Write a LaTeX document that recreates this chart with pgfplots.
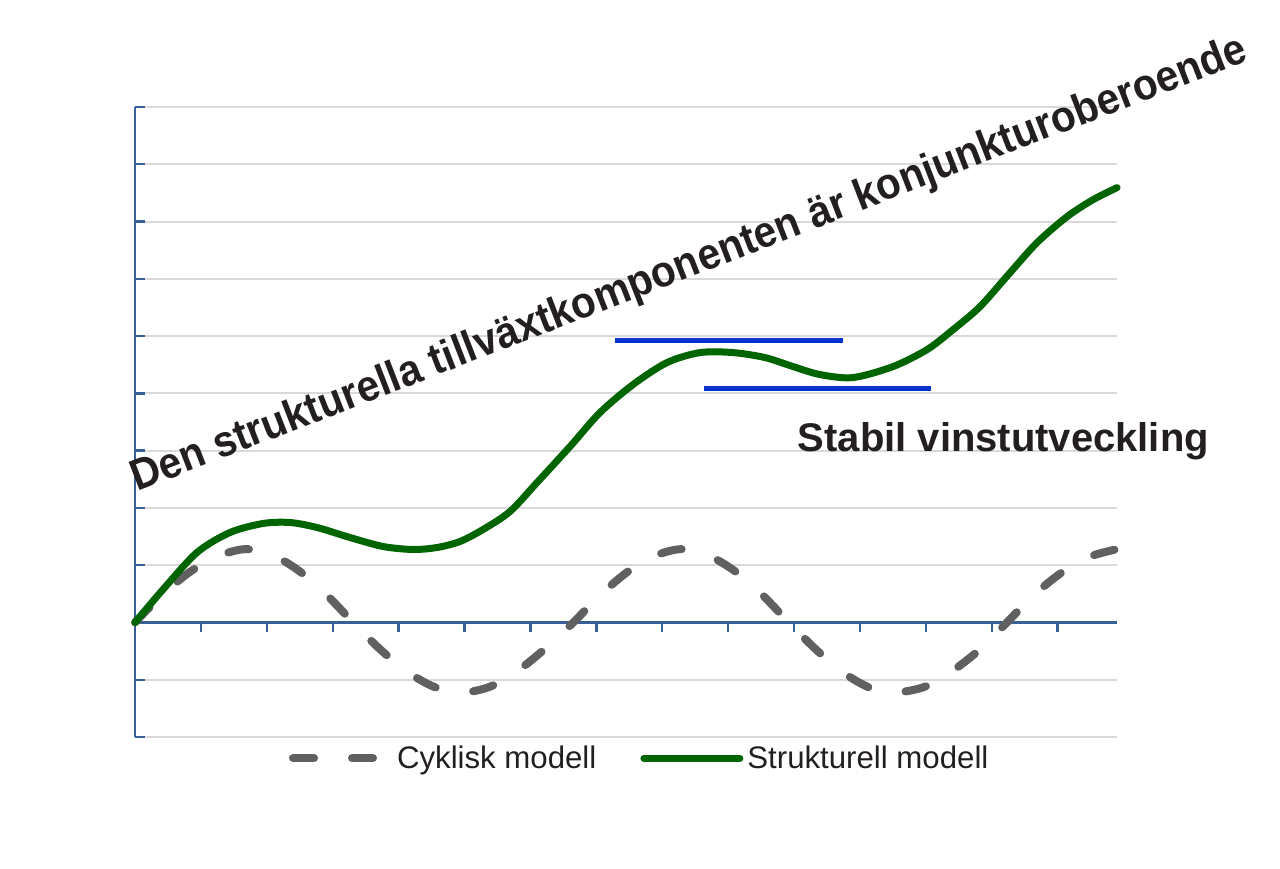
\documentclass[border=0pt]{standalone}
\usepackage{fontspec}
\setmainfont{Liberation Sans}
\usepackage{pgfplots}
\pgfplotsset{compat=1.18}
\definecolor{axisblue}{RGB}{56,96,150}
\definecolor{gridgray}{RGB}{217,217,217}
\definecolor{cycgray}{RGB}{96,96,96}
\definecolor{strgreen}{RGB}{0,100,0}
\definecolor{markblue}{RGB}{0,51,204}
\definecolor{txtgray}{RGB}{35,31,32}

\begin{document}
\begin{tikzpicture}
\useasboundingbox (-67.5pt,-65.5pt) rectangle (572.5pt,368.5pt);
\begin{axis}[
  at={(0,0)}, anchor=south west,
  scale only axis, width=491pt, height=315pt,
  xmin=0, xmax=14.9, ymin=-2, ymax=9,
  axis x line=middle, axis y line=left,
  axis line style={-, axisblue, line width=1.3pt},
  xtick={0,...,14}, ytick={-2,...,9},
  xticklabels={}, yticklabels={},
  tick align=center, major tick length=5pt,
  x tick style={axisblue, line width=1.2pt, yshift=-2.5pt},
  y tick style={axisblue, line width=1.2pt, xshift=2.5pt},
  ymajorgrids, grid style={gridgray, line width=1pt},
  legend columns=2,
  legend style={draw=none, fill=none, at={(0.515,0.0)}, anchor=north,
    font=\fontsize{15.6}{18}\selectfont, text=txtgray,
    /tikz/every even column/.append style={column sep=20pt}},
  legend image code/.code={\draw[#1] (0pt,0pt) -- (48pt,0pt);},
  clip=false,
]
% cyclical model
\addplot[cycgray, line width=4pt, dash pattern=on 10.5pt off 19pt, line cap=round, smooth] coordinates {
  (0,0) (0.41,0.48) (0.83,0.88) (1.24,1.15) (1.67,1.28) (2.08,1.18) (2.49,0.90)
  (2.90,0.49) (3.31,0) (3.72,-0.47) (4.13,-0.86) (4.55,-1.13) (4.98,-1.22)
  (5.39,-1.12) (5.80,-0.85) (6.22,-0.46) (6.65,0) (7.06,0.48) (7.47,0.88)
  (7.88,1.16) (8.29,1.28) (8.70,1.17) (9.11,0.89) (9.52,0.48) (9.92,0)
  (10.33,-0.47) (10.74,-0.87) (11.15,-1.14) (11.55,-1.22) (11.99,-1.12)
  (12.40,-0.85) (12.83,-0.46) (13.23,0) (13.64,0.48) (14.07,0.88) (14.49,1.15) (14.90,1.28)
};
\addlegendentry{Cyklisk modell}
% structural model
\addplot[strgreen, line width=3.5pt, line cap=round, smooth] coordinates {
  (0,0) (0.425,0.576) (0.941,1.222) (1.442,1.571) (1.942,1.728) (2.352,1.745)
  (2.762,1.658) (3.263,1.483) (3.763,1.326) (4.219,1.274) (4.583,1.309)
  (4.932,1.414) (5.281,1.623) (5.690,1.937) (6.100,2.443) (6.601,3.072)
  (7.056,3.665) (7.557,4.154) (8.073,4.538) (8.574,4.712) (9.074,4.712)
  (9.560,4.625) (9.985,4.468) (10.394,4.328) (10.895,4.276) (11.502,4.468)
  (12.018,4.764) (12.413,5.113) (12.822,5.515) (13.278,6.108) (13.687,6.632)
  (14.143,7.086) (14.537,7.382) (14.901,7.592)
};
\addlegendentry{Strukturell modell}
% range markers
\addplot[markblue, line width=2.5pt, forget plot] coordinates {(7.28,4.92) (10.74,4.92)};
\addplot[markblue, line width=2.5pt, forget plot] coordinates {(8.63,4.08) (12.08,4.08)};

\node[rotate=21.2, yscale=1.08, anchor=base west, inner sep=0pt, text=txtgray,
  font=\bfseries\fontsize{20.3}{24}\selectfont] at (axis cs:0.03,2.28)
  {Den strukturella tillväxtkomponenten är konjunkturoberoende};
\node[anchor=base west, inner sep=0pt, text=txtgray,
  font=\bfseries\fontsize{20}{24}\selectfont] at (axis cs:10.05,2.98)
  {Stabil vinstutveckling};
\end{axis}
\end{tikzpicture}
\end{document}
